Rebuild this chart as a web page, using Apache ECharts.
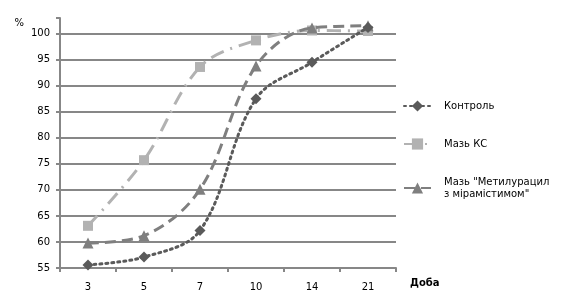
<!DOCTYPE html>
<html><head><meta charset="utf-8">
<script src="https://cdn.jsdelivr.net/npm/echarts@6/dist/echarts.min.js"></script>
<style>html,body{margin:0;padding:0;background:#fff}#c{width:567px;height:302px}</style>
</head><body><div id="c"></div>
<script>
var categories = ['3', '5', '7', '10', '14', '21'];
var control = [55.6, 57.1, 62.2, 87.5, 94.5, 101.2];
var mazKS = [63.1, 75.7, 93.6, 98.7, 100.6, 100.5];
var mazMet = [59.8, 61.2, 70.1, 93.8, 101.1, 101.5];
var seriesNames = ['Контроль', 'Мазь КС', 'Мазь "Метилурацил\nз мірамістимом"'];
var yTicks = [55, 60, 65, 70, 75, 80, 85, 90, 95, 100];

var chart = echarts.init(document.getElementById('c'));
var font = 'DejaVu Sans';
var gridCol = '#878787';
chart.setOption({
  animation: false,
  textStyle: {fontFamily: font},
  grid: {left: 60, right: 171, top: 18, bottom: 34},
  legend: {
    orient: 'vertical', left: 398, top: 95, itemWidth: 27, itemHeight: 14, itemGap: 26,
    textStyle: {fontFamily: font, fontSize: 10, color: '#000', lineHeight: 12, padding: [0, 0, 0, 8]},
    data: seriesNames
  },
  xAxis: {
    type: 'category', data: categories, boundaryGap: true,
    axisLine: {lineStyle: {color: gridCol, width: 2}},
    axisTick: {show: true, length: 4, lineStyle: {color: gridCol, width: 2}},
    axisLabel: {color: '#000', fontSize: 10, margin: 14, fontFamily: font},
    name: 'Доба', nameLocation: 'end', nameGap: 14,
    nameTextStyle: {fontWeight: 'bold', fontSize: 10, color: '#000', verticalAlign: 'top', padding: [10, 0, 0, 0]}
  },
  yAxis: {
    type: 'value', min: 55, max: 103, interval: 5,
    axisLine: {show: true, lineStyle: {color: gridCol, width: 2}},
    axisTick: {show: true, length: 4, lineStyle: {color: gridCol, width: 2}},
    splitLine: {show: true, showMaxLine: false, lineStyle: {color: gridCol, width: 2}},
    axisLabel: {color: '#000', fontSize: 10, margin: 10, fontFamily: font,
      formatter: function (v) { return yTicks.indexOf(v) >= 0 ? String(v) : ''; }},
    name: '%', nameLocation: 'end', nameGap: -5,
    nameTextStyle: {fontSize: 10, color: '#000', align: 'right', verticalAlign: 'middle', padding: [0, 36, 0, 0]}
  },
  series: [
    {name: seriesNames[0], type: 'line', data: control, smooth: 0.35,
     symbol: 'diamond', symbolSize: 11,
     lineStyle: {color: '#5a5a5a', width: 3, type: [2, 4], cap: 'round'},
     itemStyle: {color: '#5a5a5a'}, z: 4},
    {name: seriesNames[1], type: 'line', data: mazKS, smooth: 0.35,
     symbol: 'rect', symbolSize: 10,
     lineStyle: {color: '#b2b2b2', width: 3, type: [14, 7, 2, 7]},
     itemStyle: {color: '#b2b2b2'}, z: 2},
    {name: seriesNames[2], type: 'line', data: mazMet, smooth: 0.35,
     symbol: 'triangle', symbolSize: 11,
     lineStyle: {color: '#7f7f7f', width: 3, type: [11, 6]},
     itemStyle: {color: '#7f7f7f'}, z: 3}
  ]
});
</script></body></html>
